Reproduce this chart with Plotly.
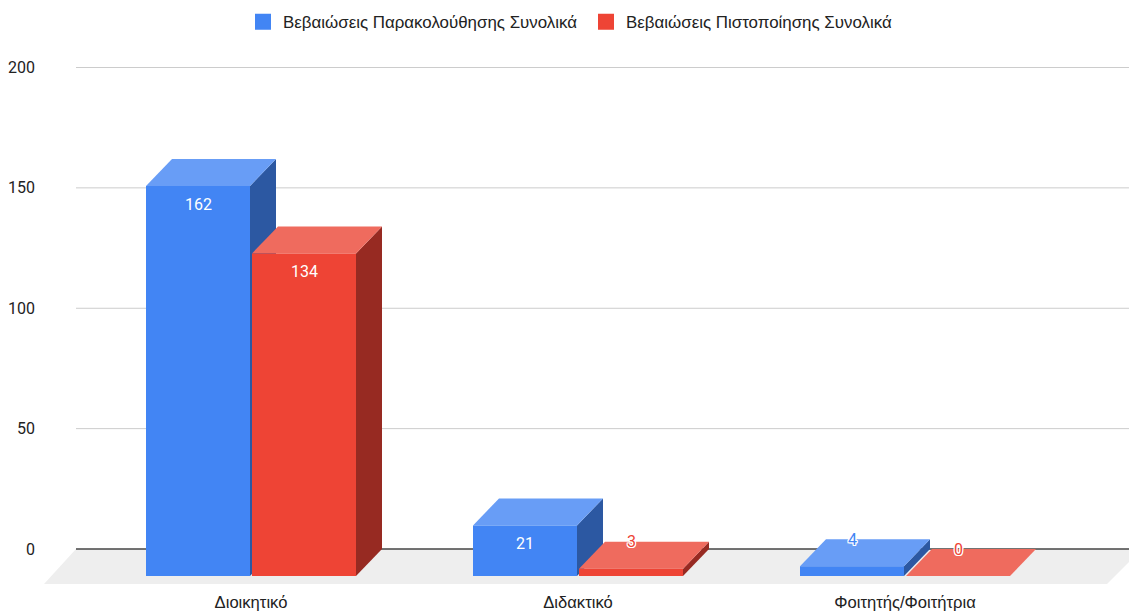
import plotly.graph_objects as go

categories = ["Διοικητικό", "Διδακτικό", "Φοιτητής/Φοιτήτρια"]
attendance = [162, 21, 4]
certification = [134, 3, 0]
series_names = ["Βεβαιώσεις Παρακολούθησης Συνολικά", "Βεβαιώσεις Πιστοποίησης Συνολικά"]
y_ticks = [0, 50, 100, 150, 200]

W, H = 1129, 612
PLOT_L, PLOT_R, PLOT_T, PLOT_B = 36, 1129, 40, 590
X_PX = 327.0            # px per category
Y_PX = 2.4075           # px per unit
ZERO_PX, CAT0_PX = 549.0, 251.0
DX = 26 / X_PX          # 3D depth in x units
DY = 27 / Y_PX          # 3D depth in y units
BAR_W = 104 / X_PX
OFFSETS = [-105 / X_PX, 1.0 / X_PX]
FACE = [
    {"front": "#4285F4", "top": "#689DF6", "side": "#2C58A2"},
    {"front": "#EE4435", "top": "#EF6B5E", "side": "#972A22"},
]
FONT = "Roboto, Arial, sans-serif"
LEGEND_FONT = "'Liberation Sans', Arial, sans-serif"
TEXT = "#222222"


def xv(px):
    return (px - CAT0_PX) / X_PX


def yv(px):
    return (ZERO_PX - px) / Y_PX


def poly(points, color):
    d = "M" + " L".join(f"{x:.5f},{y:.4f}" for x, y in points) + " Z"
    return dict(type="path", path=d, xref="x", yref="y", layer="below",
                fillcolor=color, line_width=0)


def hline(value, color, width=1):
    return dict(type="line", xref="x", yref="y", layer="below",
                x0=xv(76), x1=xv(1129), y0=value, y1=value,
                line=dict(color=color, width=width))


shapes = [poly([(xv(76), 0), (xv(1142), 0), (xv(1107), yv(584)), (xv(44), yv(584))], "#EEEEEE")]
shapes += [hline(t, "#CCCCCC") if t else hline(t, "#444444", 1.3) for t in y_ticks]

for s, values in enumerate([attendance, certification]):
    for i, v in enumerate(values):
        x0 = i + OFFSETS[s]
        x1 = x0 + BAR_W
        if v > 0:
            shapes.append(poly([(x1, -DY), (x1 + DX, 0), (x1 + DX, v), (x1, v - DY)], FACE[s]["side"]))
        shapes.append(poly([(x0, v - DY), (x1, v - DY), (x1 + DX, v), (x0 + DX, v)], FACE[s]["top"]))

fig = go.Figure()
for s, values in enumerate([attendance, certification]):
    fig.add_bar(
        x=categories, y=values, base=-DY, name=series_names[s],
        width=BAR_W, offset=OFFSETS[s], showlegend=False,
        marker=dict(color=FACE[s]["front"], line_width=0),
    )
for s, name in enumerate(series_names):
    # legend key only: gives the larger square swatch of the reference
    fig.add_scatter(x=[None], y=[None], mode="markers", name=name,
                    marker=dict(symbol="square", size=16, color=FACE[s]["front"]))

halo = ",".join(f"{a}px {b}px 0 #fff" for a in (-1, 0, 1) for b in (-1, 0, 1) if a or b)
annotations = []
for s, values in enumerate([attendance, certification]):
    for i, v in enumerate(values):
        x = i + OFFSETS[s] + BAR_W / 2
        inside = v * Y_PX > 34
        annotations.append(dict(
            x=x, y=(v - DY - 18.5 / Y_PX) if inside else v, xref="x", yref="y",
            text=str(v), showarrow=False, xanchor="center", yanchor="middle",
            font=dict(family=FONT, size=16,
                      color="#FFFFFF" if inside else FACE[s]["front"],
                      shadow="none" if inside else halo),
        ))

fig.update_layout(
    width=W, height=H, autosize=False,
    margin=dict(l=PLOT_L, r=W - PLOT_R, t=PLOT_T, b=H - PLOT_B, pad=0),
    paper_bgcolor="#FFFFFF", plot_bgcolor="#FFFFFF",
    font=dict(family=FONT, size=16, color=TEXT),
    barmode="overlay", shapes=shapes, annotations=annotations,
    legend=dict(orientation="h", x=243 / W, xref="container", xanchor="left",
                y=0.993, yref="container", yanchor="top",
                entrywidth=298, entrywidthmode="pixels",
                font=dict(family=LEGEND_FONT, size=16.9, color=TEXT),
                bgcolor="rgba(0,0,0,0)"),
    xaxis=dict(type="category", categoryorder="array", categoryarray=categories,
               range=[xv(PLOT_L), xv(PLOT_R)], showgrid=False, zeroline=False,
               showline=False, ticks="",
               tickfont=dict(family=LEGEND_FONT, size=16.6, color=TEXT)),
    yaxis=dict(range=[yv(PLOT_B), yv(PLOT_T)], tickvals=y_ticks, showgrid=False,
               zeroline=False, showline=False, ticks="",
               tickfont=dict(family=FONT, size=16, color=TEXT)),
)

fig.write_html("out.html", config={"displayModeBar": False},
               post_script="document.body.style.margin='0';")
